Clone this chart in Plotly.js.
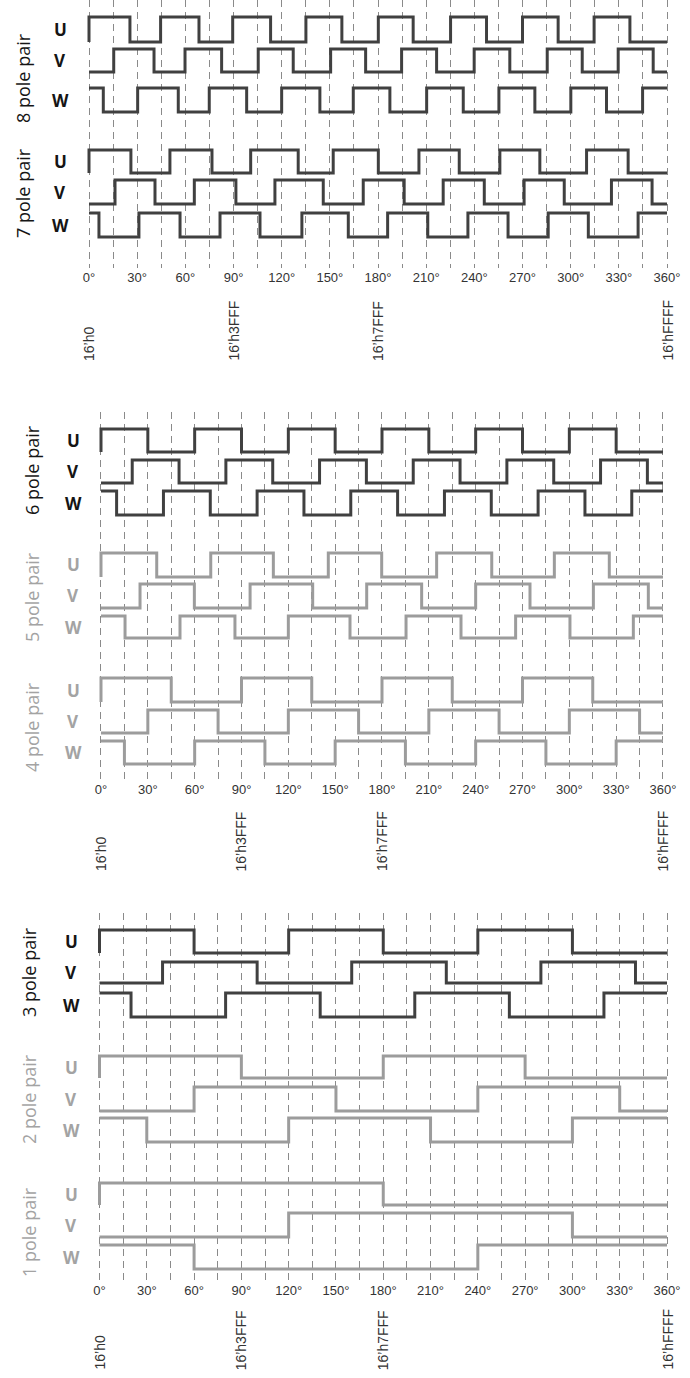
<!DOCTYPE html>
<html>
<head>
<meta charset="utf-8">
<script src="https://cdn.plot.ly/plotly-3.0.1.min.js"></script>
<style>html,body{margin:0;padding:0;background:#fff;}#chart{width:690px;height:1378px;}</style>
</head>
<body>
<div id="chart"></div>
<script>
// ---------------- DATA ----------------
// x-axis ticks (electrical angle, degrees) and their labels
const degTicks  = [0,15,30,45,60,75,90,105,120,135,150,165,180,195,210,225,240,255,270,285,300,315,330,345,360];
const degLabels = ['0°','','30°','','60°','','90°','','120°','','150°','','180°','','210°','','240°','','270°','','300°','','330°','','360°'];
// encoder value labels
const hexTickVals = [0, 90, 180, 360];
const hexLabels   = ['16’h0', '16’h3FFF', '16’h7FFF', '16’hFFFF'];
// phase names and pole-pair group names
const phaseNames = ['U', 'V', 'W'];
const poleLabels = ['8 pole pair','7 pole pair','6 pole pair','5 pole pair','4 pole pair','3 pole pair','2 pole pair','1 pole pair'];
// level of each phase at 0° before the first listed edge (U rises right at 0°)
const startLevel = [0, 0, 1];
// toggle angles (degrees)
const pp8U = [0,25.5,44.6,68.5,89.5,113.1,135.1,157.5,180.2,201.9,225.2,247.6,270,292.2,314.6,336.9];
const pp8V = [15.4,40.5,59.8,82.6,105.4,127.2,150.5,172.3,194.7,216.5,239.9,262.1,285.4,307.2,329.6,351.4];
const pp8W = [8.9,30.3,55.6,74.9,98.2,120,143.8,164.6,187.4,210.3,233.1,255.3,277.7,300.1,322.3,344.8];
const pp7U = [0,26.1,50.4,76.6,100.7,130.3,152.1,180.2,205.5,230.6,255.9,280.8,309.9,335.8];
const pp7V = [16.2,41.1,65.6,91.5,115.8,145.9,170.8,196.3,220.6,246.2,271,296,325.4,350.7];
const pp7W = [6.2,31.1,56.7,81.6,106.5,132.6,161.5,186,211,236,261,286,311,342];
const pp6U = [0,30,60,90,120,150,180,210,240,270,300,330];
const pp6V = [20,50,80,110,140,170,200,230,260,290,320,350];
const pp6W = [10,40,70,100,130,160,190,220,250,280,310,340];
const pp5U = [0,35.7,70.3,110.4,145.6,179.8,215,250.3,290.4,325.6];
const pp5V = [25,59.8,95.5,135.6,170.2,205.4,240,274.8,315.4,350.6];
const pp5W = [15.4,50.6,85.8,120,159.5,195.4,230.6,265.6,300.4,341];
const pp4U = [0,45,90,135,180,225,270,315];
const pp4V = [30,75,120,165,210,255,300,345];
const pp4W = [15,60,105,150,195,240,285,330];
const pp3U = [0,60,120,180,240,300];
const pp3V = [40,100,160,220,280,340];
const pp3W = [20,80,140,200,260,320];
const pp2U = [0,90,180,270];
const pp2V = [60,150,240,330];
const pp2W = [30,120,210,300];
const pp1U = [0,180];
const pp1V = [120,300];
const pp1W = [60,240];
const groupEdges = [
  [pp8U,pp8V,pp8W],[pp7U,pp7V,pp7W],[pp6U,pp6V,pp6W],[pp5U,pp5V,pp5W],
  [pp4U,pp4V,pp4W],[pp3U,pp3V,pp3W],[pp2U,pp2V,pp2W],[pp1U,pp1V,pp1W]
];

// ---------------- LAYOUT / STYLE ----------------
const W = 690, H = 1378;
const DARK = '#404040', LIGHT = '#9c9c9c';
const DARK_TXT = '#151515', LIGHT_TXT = '#a3a3a3';
const tickFontFamily = '"Liberation Sans Narrow", "Arial Narrow", "Liberation Sans", sans-serif';
const labelFontFamily = '"Open Sans", "Noto Sans", sans-serif';

// pixel geometry of the three panels (positions only)
const panels = [
  {xa:'x',  ya:'y',  hx:'x4', x0:89,   x1:667, top:0,   bottom:268,  hexBottom:363,  groupX:23, uvwX:60,
   groups:[{g:0, dark:true,  rows:[[17,42],[49,72],[88,112]],      labelY:78},
           {g:1, dark:true,  rows:[[150,173],[180,204],[213,237]], labelY:193}]},
  {xa:'x2', ya:'y2', hx:'x5', x0:101,  x1:663, top:412, bottom:780,  hexBottom:873,  groupX:32, uvwX:73,
   groups:[{g:2, dark:true,  rows:[[429,452],[460,483],[491,515]], labelY:470},
           {g:3, dark:false, rows:[[553,577],[584,608],[616,638]], labelY:597},
           {g:4, dark:false, rows:[[678,702],[710,733],[741,764]], labelY:727}]},
  {xa:'x3', ya:'y3', hx:'x6', x0:99.5, x1:667, top:913, bottom:1281, hexBottom:1372, groupX:29, uvwX:71,
   groups:[{g:5, dark:true,  rows:[[930,953],[962,983],[993,1017]],    labelY:972},
           {g:6, dark:false, rows:[[1056,1078],[1087,1111],[1118,1142]], labelY:1099},
           {g:7, dark:false, rows:[[1183,1205],[1213,1237],[1245,1269]], labelY:1232}]}
];

function axKey(id, letter){ const n = id.slice(1); return letter + 'axis' + (n === '' ? '' : n); }
function py(px){ return 1 - px / H; }

const traces = [];
const layout = {
  width: W, height: H,
  margin: {l:0, r:0, t:0, b:0},
  showlegend: false,
  paper_bgcolor: '#ffffff',
  plot_bgcolor: 'rgba(0,0,0,0)',
  hovermode: false,
  annotations: []
};

let yIdx = 4;
const PAD = 0.25;
panels.forEach(p => {
  const ppd = (p.x1 - p.x0) / 360;
  const dom = [(p.x0 - 3 * ppd) / W, (p.x1 + 3 * ppd) / W];
  // visible axis carrying the dashed grid and the degree labels
  layout[axKey(p.xa,'x')] = {
    domain: dom, range: [-3, 363], anchor: p.ya,
    tickmode: 'array', tickvals: degTicks, ticktext: degLabels,
    showgrid: true, griddash: '7px,5px', gridcolor: '#8a8a8a', gridwidth: 1,
    zeroline: false, showline: false, ticks: '',
    tickfont: {family: tickFontFamily, size: 13, color: '#333333'},
    fixedrange: true
  };
  layout[axKey(p.ya,'y')] = {
    domain: [py(p.bottom), py(p.top)], range: [0, 1], visible: false, anchor: p.xa, fixedrange: true
  };
  traces.push({x:[0], y:[0], xaxis:p.xa, yaxis:p.ya, mode:'markers', marker:{opacity:0}, hoverinfo:'skip'});
  const firstRowY = 'y' + yIdx;
  layout[axKey(p.hx,'x')] = {domain: dom, range: [-3, 363], visible: false, anchor: firstRowY, fixedrange: true};

  p.groups.forEach(gr => {
    const color = gr.dark ? DARK : LIGHT;
    const tcol = gr.dark ? DARK_TXT : LIGHT_TXT;
    layout.annotations.push({
      xref:'paper', yref:'paper', x: p.groupX / W, y: py(gr.labelY),
      text: poleLabels[gr.g], textangle: -90, showarrow: false,
      xanchor: 'center', yanchor: 'middle',
      font: {family: labelFontFamily, size: 18, color: tcol}
    });
    phaseNames.forEach((ph, k) => {
      const [hi, lo] = gr.rows[k];
      const amp = lo - hi;
      const yid = 'y' + yIdx;
      layout[axKey(yid,'y')] = {
        domain: [py(lo + PAD * amp), py(hi - PAD * amp)],
        range: [-PAD, 1 + PAD], visible: false, anchor: p.hx, fixedrange: true
      };
      const edges = groupEdges[gr.g][k];
      let lvl = startLevel[k];
      const xs = [0], ys = [lvl];
      edges.forEach(e => { lvl = 1 - lvl; xs.push(e); ys.push(lvl); });
      xs.push(360); ys.push(lvl);
      traces.push({
        x: xs, y: ys, xaxis: p.hx, yaxis: yid, mode: 'lines',
        line: {shape: 'hv', width: 3, color: color}, hoverinfo: 'skip'
      });
      layout.annotations.push({
        xref:'paper', yref:'paper', x: p.uvwX / W, y: py((hi + lo) / 2),
        text: ph, showarrow: false, xanchor: 'center', yanchor: 'middle',
        font: {family: labelFontFamily, size: 17, color: tcol, weight: 'bold'}
      });
      yIdx++;
    });
  });

  hexTickVals.forEach((v, i) => {
    layout.annotations.push({
      xref: p.xa, yref: 'paper', x: v, y: py(p.hexBottom),
      text: hexLabels[i], textangle: -90, showarrow: false,
      xanchor: 'center', yanchor: 'bottom',
      font: {family: tickFontFamily, size: 14, color: '#333333'}
    });
  });
});

Plotly.newPlot('chart', traces, layout, {displayModeBar: false, staticPlot: true});
</script>
</body>
</html>
